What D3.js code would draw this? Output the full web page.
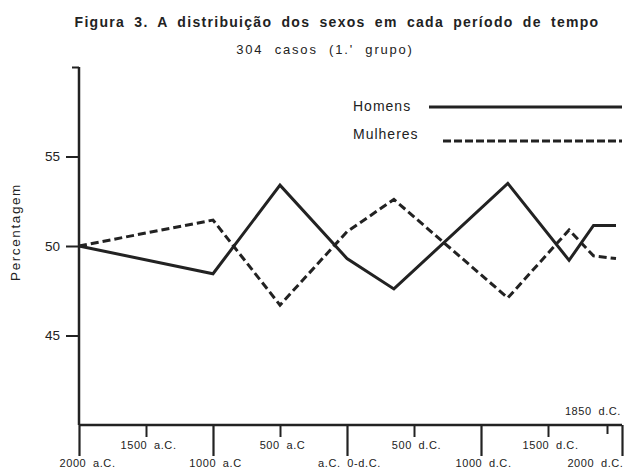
<!DOCTYPE html>
<html>
<head>
<meta charset="utf-8">
<script src="https://cdn.jsdelivr.net/npm/d3@7"></script>
<style>
  html, body { margin: 0; padding: 0; background: #fff; }
  svg { display: block; font-family: "Liberation Sans", Arial, sans-serif; }
</style>
</head>
<body>
<svg id="chart" width="624" height="472"></svg>
<script>
// ---- data ----
const years = [-2000, -1000, -500, 0, 350, 1200, 1625, 1770, 1940];
const homens = [50.0, 48.45, 53.4, 49.3, 47.6, 53.5, 49.2, 51.15, 51.15];
const mulheres = [50.0, 51.45, 46.7, 50.8, 52.6, 47.1, 50.9, 49.45, 49.3];
const majorTicks = [-2000, -1000, 0, 1000, 2000];
const majorLabels = ["2000 a.C.", "1000 a.C", "a.C. 0-d.C.", "1000 d.C.", "2000 d.C."];
const minorTicks = [-1500, -500, 500, 1500, 1850];
const minorLabels = ["1500 a.C.", "500 a.C", "500 d.C.", "1500 d.C.", ""];
const yTicks = [45, 50, 55, 60];
const yTickLabels = ["45", "50", "55", ""];
const seriesNames = ["Homens", "Mulheres"];

const svg = d3.select("#chart");
const ink = "#222";

const x = d3.scaleLinear().domain([-2000, 1500, 1850, 2000]).range([79, 548, 607, 622]);
const y = d3.scaleLinear().domain([40, 60]).range([425, 67]);

// title
svg.append("text").attr("x", 337).attr("y", 27).attr("text-anchor", "middle")
  .attr("font-size", 14).attr("font-weight", "bold").attr("fill", ink)
  .attr("letter-spacing", 1.3).attr("word-spacing", 4)
  .text("Figura 3. A distribuição dos sexos em cada período de  tempo");
svg.append("text").attr("x", 325).attr("y", 54).attr("text-anchor", "middle")
  .attr("font-size", 13).attr("fill", ink)
  .attr("letter-spacing", 1.8).attr("word-spacing", 6)
  .text("304 casos (1.' grupo)");

// y axis
const yAxis = d3.axisLeft(y).tickValues(yTicks)
  .tickFormat((d, i) => yTickLabels[i]).tickSize(13).tickPadding(5);
const gy = svg.append("g").attr("transform", "translate(79,0)").call(yAxis);
gy.select(".domain").attr("stroke", ink).attr("stroke-width", 2.5).attr("d", "M0," + y(60) + "V" + y(40));
gy.selectAll(".tick line").attr("stroke", ink).attr("stroke-width", 2)
  .attr("x2", d => d === 60 ? -7 : -13);
gy.selectAll(".tick text").attr("font-size", 13.5).attr("fill", ink)
  .attr("font-family", "Liberation Sans, Arial, sans-serif").attr("dx", "-1");

svg.append("text").attr("transform", "translate(20,232) rotate(-90)")
  .attr("text-anchor", "middle").attr("font-size", 13.5).attr("fill", ink)
  .attr("letter-spacing", 1.6)
  .text("Percentagem");

// x axis major
const xMajor = d3.axisBottom(x).tickValues(majorTicks)
  .tickFormat((d, i) => majorLabels[i]).tickSize(31).tickPadding(3);
const gx = svg.append("g").attr("transform", "translate(0," + y(40) + ")").call(xMajor);
gx.select(".domain").attr("stroke", ink).attr("stroke-width", 2.5)
  .attr("d", "M" + x(-2000) + ",0H" + x(2000));
gx.selectAll(".tick line").attr("stroke", ink).attr("stroke-width", 2.2);
gx.selectAll(".tick text").attr("font-size", 11).attr("fill", ink)
  .attr("font-family", "Liberation Sans, Arial, sans-serif")
  .attr("letter-spacing", 0.6).attr("word-spacing", 3)
  .attr("text-anchor", d => d === 2000 ? "end" : "middle")
  .attr("dx", d => d === -2000 ? 8 : (d === 2000 ? 1 : 2));

// x axis minor
const xMinor = d3.axisBottom(x).tickValues(minorTicks)
  .tickFormat((d, i) => minorLabels[i]).tickSize(12).tickPadding(4);
const gx2 = svg.append("g").attr("transform", "translate(0," + y(40) + ")").call(xMinor);
gx2.select(".domain").remove();
gx2.selectAll(".tick line").attr("stroke", ink).attr("stroke-width", 2)
  .attr("y2", d => d === 1850 ? 9 : 12);
gx2.selectAll(".tick text").attr("font-size", 11).attr("fill", ink)
  .attr("font-family", "Liberation Sans, Arial, sans-serif")
  .attr("letter-spacing", 0.6).attr("word-spacing", 3).attr("dx", 2);

// 1850 label above axis
svg.append("text").attr("x", x(2000) - 1).attr("y", y(40) - 10)
  .attr("text-anchor", "end").attr("font-size", 11).attr("fill", ink)
  .attr("letter-spacing", 0.6).attr("word-spacing", 3)
  .text("1850 d.C.");

// lines
const line = d3.line().x((d, i) => x(years[i])).y(d => y(d));
svg.append("path").datum(homens).attr("d", line)
  .attr("fill", "none").attr("stroke", ink).attr("stroke-width", 3)
  .attr("stroke-linejoin", "miter");
svg.append("path").datum(mulheres).attr("d", line)
  .attr("fill", "none").attr("stroke", ink).attr("stroke-width", 3)
  .attr("stroke-dasharray", "8,4").attr("stroke-linejoin", "miter");

// legend
const legend = svg.append("g");
legend.append("text").attr("x", 353).attr("y", 111).attr("font-size", 14).attr("fill", ink)
  .attr("letter-spacing", 1).text(seriesNames[0]);
legend.append("line").attr("x1", 429).attr("x2", 622).attr("y1", 107).attr("y2", 107)
  .attr("stroke", ink).attr("stroke-width", 3);
legend.append("text").attr("x", 353).attr("y", 139).attr("font-size", 14).attr("fill", ink)
  .attr("letter-spacing", 1).text(seriesNames[1]);
legend.append("line").attr("x1", 443).attr("x2", 622).attr("y1", 141).attr("y2", 141)
  .attr("stroke", ink).attr("stroke-width", 3).attr("stroke-dasharray", "8,3");
</script>
</body>
</html>
